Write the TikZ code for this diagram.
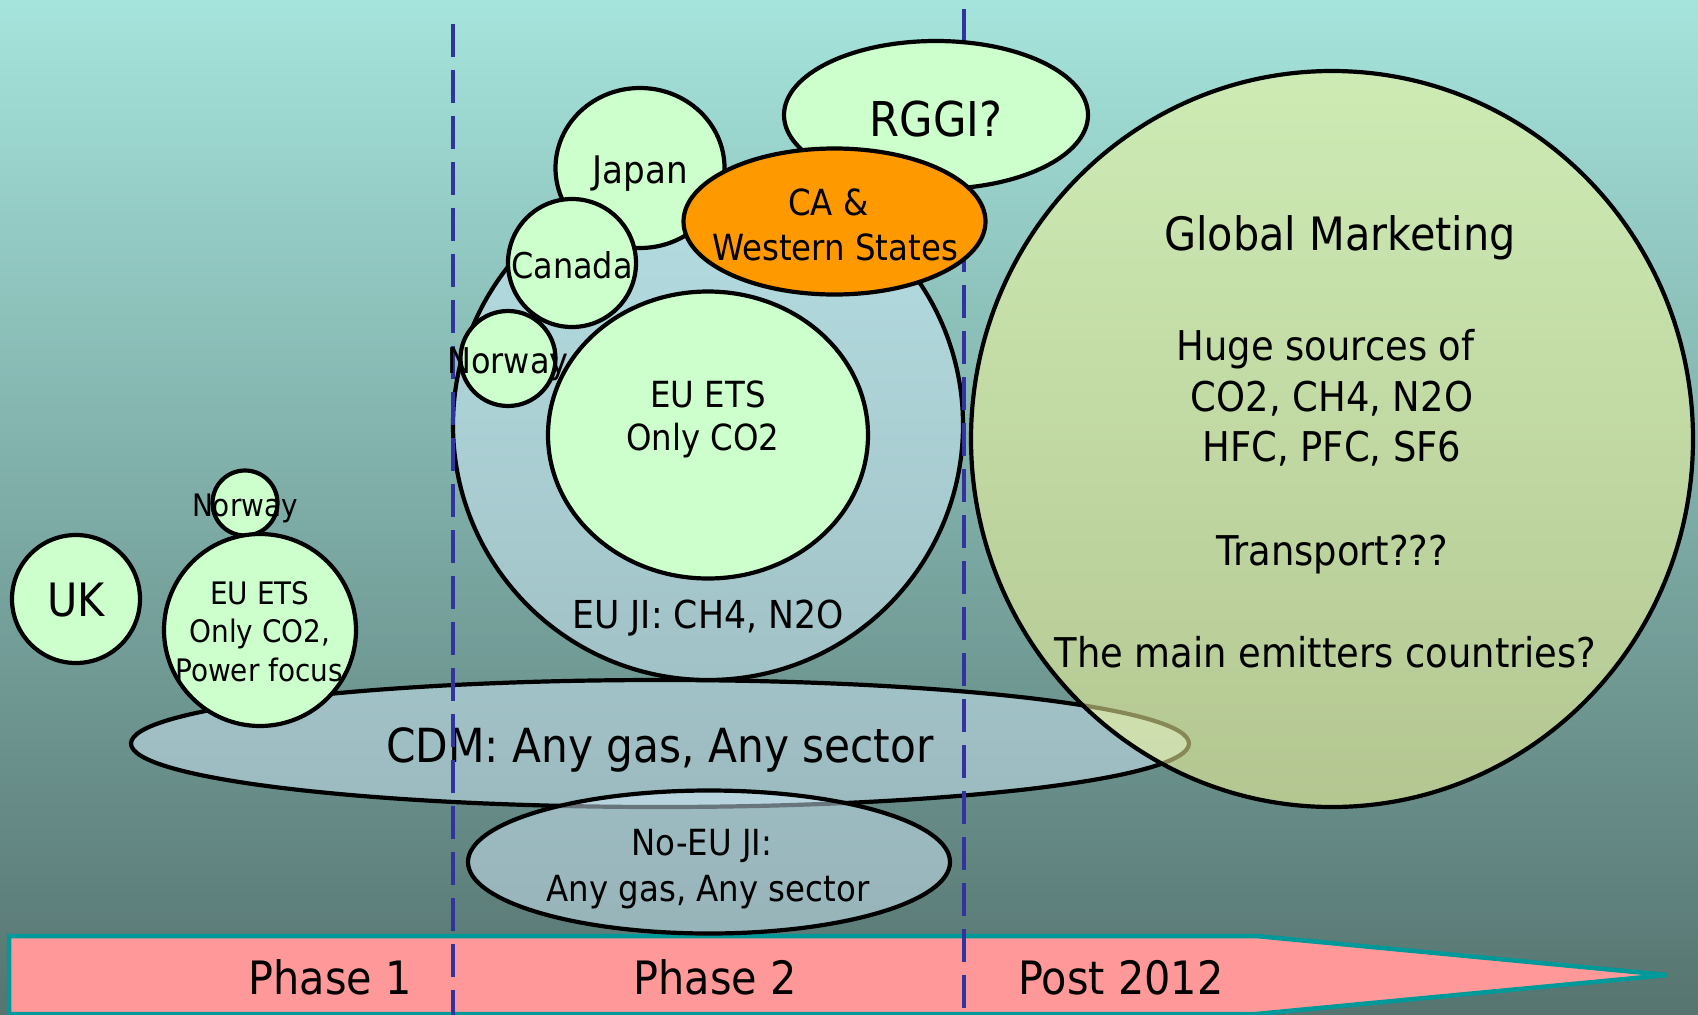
\documentclass[tikz,border=0pt]{standalone}
\usepackage{fontspec}
\setmainfont{DejaVu Sans}[FakeStretch=0.9]
\usetikzlibrary{shapes.geometric}
\definecolor{bgtop}{RGB}{165,228,220}
\definecolor{bgbot}{RGB}{86,116,112}
\definecolor{grn}{RGB}{204,255,204}
\definecolor{blu}{RGB}{210,235,250}
\definecolor{glob}{RGB}{245,248,155}
\definecolor{orng}{RGB}{255,153,0}
\definecolor{pinkc}{RGB}{255,153,153}
\definecolor{tealc}{RGB}{0,153,153}
\definecolor{dashc}{RGB}{51,51,160}
\tikzset{
  shp/.style={draw=black, line width=4.2pt, inner sep=0pt, outer sep=0pt},
  grnshape/.style={shp, fill=grn},
  blushape/.style={shp, fill=blu, fill opacity=0.5},
  circ/.style={circle, minimum size=#1},
  ell/.style n args={2}{ellipse, minimum width=#1, minimum height=#2},
  fs/.style={inner sep=0pt, font=\fontsize{#1}{#1}\selectfont,
    text height=\dimexpr #1pt*73/100\relax, text depth=0pt},
  dashln/.style={draw=dashc, line width=3.6pt, dash pattern=on 33pt off 13pt},
}
\begin{document}
\begin{tikzpicture}[x=1pt,y=-1pt]
\useasboundingbox (0,0) rectangle (1698,1015);
% background
\fill[top color=bgtop, bottom color=bgbot] (0,0) rectangle (1698,1015);
% timeline arrow
\coordinate (a1) at (9,936);
\coordinate (a2) at (1256,936);
\coordinate (a3) at (1667,975);
\coordinate (a4) at (1256,1014);
\coordinate (a5) at (9,1014);
\draw[fill=pinkc, draw=tealc, line width=4.5pt, line join=miter] (a1) -- (a2) -- (a3) -- (a4) -- (a5) -- cycle;
\node[fs=46] (ph1) at (330,978) {Phase 1};
\node[fs=46] (ph2) at (715,978) {Phase 2};
\node[fs=46] (post) at (1121,978) {Post 2012};
% semi-transparent shapes
\node[blushape, ell={1058pt}{127pt}] (cdm) at (660,743.5) {};
\node[fs=47] (cdmt) at (660,745) {CDM: Any gas, Any sector};
\node[blushape, ell={482pt}{143pt}] (noeu) at (709,862) {};
\node[fs=36] (noeu1) at (702,842.5) {No-EU JI:};
\node[fs=36] (noeu2) at (708,888) {Any gas, Any sector};
\node[blushape, circ=510pt] (euji) at (708,425) {};
\node[fs=38.5] (eujit) at (708,614) {EU JI: CH4, N2O};
\node[shp, fill=glob, fill opacity=0.55, ell={722pt}{736pt}] (global) at (1332,439) {};
\node[fs=46] (g0) at (1340,234) {Global Marketing};
\node[fs=41] (g1) at (1325.5,345.5) {Huge sources of};
\node[fs=41] (g2) at (1332,396.4) {CO2, CH4, N2O};
\node[fs=41] (g3) at (1332,447) {HFC, PFC, SF6};
\node[fs=41] (g4) at (1332,551) {Transport???};
\node[fs=41] (g5) at (1325.5,653) {The main emitters countries?};
% phase boundaries
\coordinate (d1t) at (453,24);
\coordinate (d1b) at (453,1015);
\coordinate (d2t) at (964,9);
\coordinate (d2b) at (964,1015);
\draw[dashln] (d1t) -- (d1b);
\draw[dashln] (d2t) -- (d2b);
% phase 1 schemes
\node[grnshape, circ=128pt] (uk) at (76,599) {};
\node[fs=46] (ukt) at (76,600) {UK};
\node[grnshape, circ=65pt] (norL) at (245,503) {};
\node[fs=31] (norLt) at (245,505) {Norway};
\node[grnshape, circ=192pt] (etsL) at (260,630) {};
\node[fs=31] (etsL1) at (260,593) {EU ETS};
\node[fs=31] (etsL2) at (260,631) {Only CO2,};
\node[fs=31] (etsL3) at (259,670) {Power focus};
% phase 2 schemes
\node[grnshape, ell={169pt}{160pt}] (japan) at (640,168) {};
\node[fs=38] (japant) at (640,170) {Japan};
\node[grnshape, circ=128pt] (canada) at (572,263) {};
\node[fs=35.5] (canadat) at (572,265.3) {Canada};
\node[grnshape, circ=95pt] (norR) at (508,358.5) {};
\node[fs=35.5] (norRt) at (508,360.6) {Norway};
\node[grnshape, ell={320pt}{287pt}] (etsI) at (708,435) {};
\node[fs=36] (etsI1) at (708,394) {EU ETS};
\node[fs=36] (etsI2) at (703,437.5) {Only CO2};
\node[grnshape, ell={304pt}{148pt}] (rggi) at (936,115) {};
\node[fs=48] (rggit) at (936,119) {RGGI?};
\node[shp, fill=orng, ell={302pt}{146pt}] (ca) at (834.5,221.5) {};
\node[fs=36] (ca1) at (828.5,202.5) {CA \&};
\node[fs=36] (ca2) at (835,247) {Western States};
\end{tikzpicture}
\end{document}
